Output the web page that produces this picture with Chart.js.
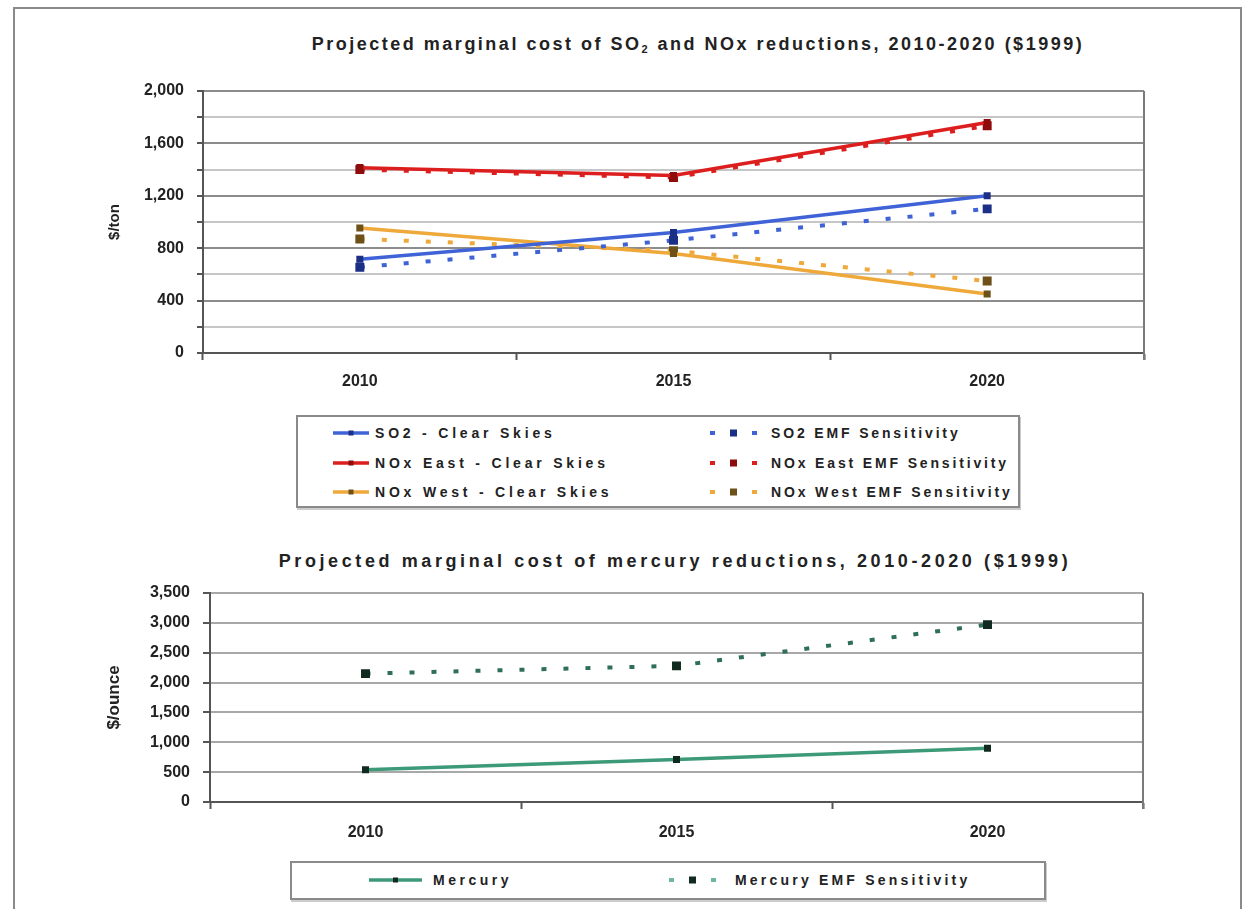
<!DOCTYPE html>
<html>
<head>
<meta charset="utf-8">
<script src="https://cdn.jsdelivr.net/npm/chart.js@4.4.1/dist/chart.umd.min.js"></script>
<style>
  body { margin: 0; background: #fff; font-family: "Liberation Sans", Arial, sans-serif; }
  #page { position: relative; width: 1247px; height: 909px; overflow: hidden; }
  #frame { position: absolute; left: 13px; top: 7px; width: 1225px; height: 920px; border: 2px solid #8a8a8a; }
  .title { position: absolute; font-weight: bold; color: #222; white-space: nowrap; transform: translateX(-50%); }
  .title sub { font-size: 11px; vertical-align: -3px; }
  canvas { position: absolute; left: 0; }
  .legend { position: absolute; border: 2px solid #8a8a8a; background: #fff; box-shadow: 1px 2px 0 #ccc; }
  .item { position: absolute; height: 20px; font-weight: bold; font-size: 14px; color: #222; white-space: nowrap; line-height: 20px; }
  .sample { position: absolute; top: 0; height: 20px; }
  .txt { position: absolute; top: 0; }
</style>
</head>
<body>
<div id="page">
  <div id="frame"></div>
  <div class="title" style="left:698px; top:34px; font-size:18px; letter-spacing:2.5px;">Projected marginal cost of SO<sub>2</sub> and NOx reductions, 2010-2020 ($1999)</div>
  <canvas id="topChart" style="top:0" width="1247" height="410"></canvas>
  <div class="legend" id="legendTop" style="left:296px; top:415px; width:720px; height:89px;"></div>
  <div class="title" style="left:675px; top:551px; font-size:18px; letter-spacing:3.6px;">Projected marginal cost of mercury reductions, 2010-2020 ($1999)</div>
  <canvas id="bottomChart" style="top:540px" width="1247" height="320"></canvas>
  <div class="legend" id="legendBottom" style="left:290px; top:861px; width:752px; height:35px;"></div>
</div>
<script>
// data
const years = ['2010', '2015', '2020'];

const so2Clear = [715, 920, 1200];
const so2Emf = [655, 860, 1100];
const noxEastClear = [1415, 1355, 1760];
const noxEastEmf = [1400, 1340, 1735];
const noxWestClear = [955, 760, 450];
const noxWestEmf = [870, 780, 550];

const mercury = [540, 710, 900];
const mercuryEmf = [2150, 2280, 2970];

const topLabels = ['SO2 - Clear Skies', 'SO2 EMF Sensitivity',
  'NOx East - Clear Skies', 'NOx East EMF Sensitivity',
  'NOx West - Clear Skies', 'NOx West EMF Sensitivity'];
const bottomLabels = ['Mercury', 'Mercury EMF Sensitivity'];

const blue = '#3f63d6', blueDark = '#1c2f86';
const red = '#dc1e1e', redDark = '#8e0c0c';
const orange = '#eea93a', orangeDark = '#6d5118';
const green = '#3d9a78', greenDark = '#102a20';

function solid(label, data, color, dark) {
  return { label, data, borderColor: color, borderWidth: 3.5, pointStyle: 'rect',
    pointRadius: 2.5, pointBackgroundColor: dark, pointBorderColor: dark, tension: 0 };
}
function dotted(label, data, color, dark) {
  return { label, data, borderColor: color, borderWidth: 4, borderDash: [5, 17],
    pointStyle: 'rect', pointRadius: 3.5, pointBackgroundColor: dark, pointBorderColor: dark, tension: 0 };
}

// right edge of the plot box
const plotFrame = {
  id: 'plotFrame',
  afterDraw(chart) {
    const a = chart.chartArea, ctx = chart.ctx;
    ctx.save();
    ctx.strokeStyle = '#7a7a7a';
    ctx.lineWidth = 2;
    ctx.beginPath();
    ctx.moveTo(a.right, a.top);
    ctx.lineTo(a.right, a.bottom + 7);
    ctx.stroke();
    ctx.restore();
  }
};

const tickFont = { family: 'Liberation Sans', size: 16, weight: 'bold' };
const titleFont = { family: 'Liberation Sans', size: 15, weight: 'bold' };

function xAxis(height, pad) {
  return {
    offset: true,
    grid: { offset: true, drawOnChartArea: false, tickLength: 7, tickColor: '#555', tickWidth: 2 },
    border: { color: '#555', width: 2 },
    ticks: { color: '#222', font: { family: 'Liberation Sans', size: 16, weight: 'bold' }, padding: pad },
    afterFit(s) { s.height = height; }
  };
}

new Chart(document.getElementById('topChart'), {
  type: 'line',
  data: {
    labels: years,
    datasets: [
      solid(topLabels[0], so2Clear, blue, blueDark),
      dotted(topLabels[1], so2Emf, blue, blueDark),
      solid(topLabels[2], noxEastClear, red, redDark),
      dotted(topLabels[3], noxEastEmf, red, redDark),
      solid(topLabels[4], noxWestClear, orange, orangeDark),
      dotted(topLabels[5], noxWestEmf, orange, orangeDark)
    ]
  },
  options: {
    responsive: false,
    animation: false,
    layout: { padding: { left: 102, top: 91, right: 103, bottom: 17 } },
    plugins: { legend: { display: false }, tooltip: { enabled: false } },
    scales: {
      x: xAxis(40, 12),
      y: {
        min: 0, max: 2000,
        ticks: { stepSize: 200, padding: 13, color: '#222', font: tickFont, autoSkip: false,
          callback: v => v % 400 === 0 ? v.toLocaleString('en-US') : '' },
        grid: { color: c => c.tick && c.tick.value % 400 === 0 ? '#8c8c8c' : '#c6c6c6',
          lineWidth: 2, tickLength: 6, tickColor: '#555' },
        border: { color: '#555', width: 2 },
        title: { display: true, text: '$/ton', color: '#222', font: titleFont },
        afterFit(s) { s.width = 101; }
      }
    }
  },
  plugins: [plotFrame]
});

new Chart(document.getElementById('bottomChart'), {
  type: 'line',
  data: {
    labels: years,
    datasets: [
      solid(bottomLabels[0], mercury, green, greenDark),
      dotted(bottomLabels[1], mercuryEmf, '#2f6f58', greenDark)
    ]
  },
  options: {
    responsive: false,
    animation: false,
    layout: { padding: { left: 100, top: 53, right: 104, bottom: 13 } },
    plugins: { legend: { display: false }, tooltip: { enabled: false } },
    scales: {
      x: xAxis(45, 14),
      y: {
        min: 0, max: 3500,
        ticks: { stepSize: 500, padding: 13, color: '#222', font: tickFont },
        grid: { color: '#a8a8a8', lineWidth: 2, tickLength: 7, tickColor: '#555' },
        border: { color: '#555', width: 2 },
        title: { display: true, text: '$/ounce', color: '#222', font: { family: 'Liberation Sans', size: 17, weight: 'bold' } },
        afterFit(s) { s.width = 110; }
      }
    }
  },
  plugins: [plotFrame]
});

// legends built from the dataset labels and colours
function sampleHtml(color, dark, isDotted, len) {
  if (!isDotted) {
    return '<svg width="' + len + '" height="20"><line x1="0" y1="10" x2="' + len + '" y2="10" stroke="' + color +
      '" stroke-width="3.5"/><rect x="' + (len / 2 - 2.5) + '" y="7.5" width="5" height="5" fill="' + dark + '"/></svg>';
  }
  return '<svg width="52" height="20"><rect x="2" y="8" width="5" height="4" fill="' + color + '"/>' +
    '<rect x="22" y="6.5" width="7" height="7" fill="' + dark + '"/>' +
    '<rect x="44" y="8" width="5" height="4" fill="' + color + '"/></svg>';
}
function addItem(box, left, top, textLeft, label, color, dark, isDotted, spacing, len) {
  const d = document.createElement('div');
  d.className = 'item';
  d.style.left = left + 'px';
  d.style.top = top + 'px';
  d.innerHTML = '<span class="sample">' + sampleHtml(color, dark, isDotted, len || 36) + '</span>' +
    '<span class="txt" style="left:' + textLeft + 'px; letter-spacing:' + spacing + 'px">' + label + '</span>';
  box.appendChild(d);
}
const lt = document.getElementById('legendTop');
const topCols = [[blue, blueDark], [red, redDark], [orange, orangeDark]];
topCols.forEach((c, i) => {
  addItem(lt, 35, 6 + i * 29.5, 42, topLabels[i * 2], c[0], c[1], false, 3.8);
  addItem(lt, 410, 6 + i * 29.5, 63, topLabels[i * 2 + 1], c[0], c[1], true, 2.85);
});
const lb = document.getElementById('legendBottom');
addItem(lb, 77, 7, 64, bottomLabels[0], green, greenDark, false, 3.5, 53);
addItem(lb, 375, 7, 68, bottomLabels[1], '#6fb89a', greenDark, true, 3.2);
</script>
</body>
</html>
